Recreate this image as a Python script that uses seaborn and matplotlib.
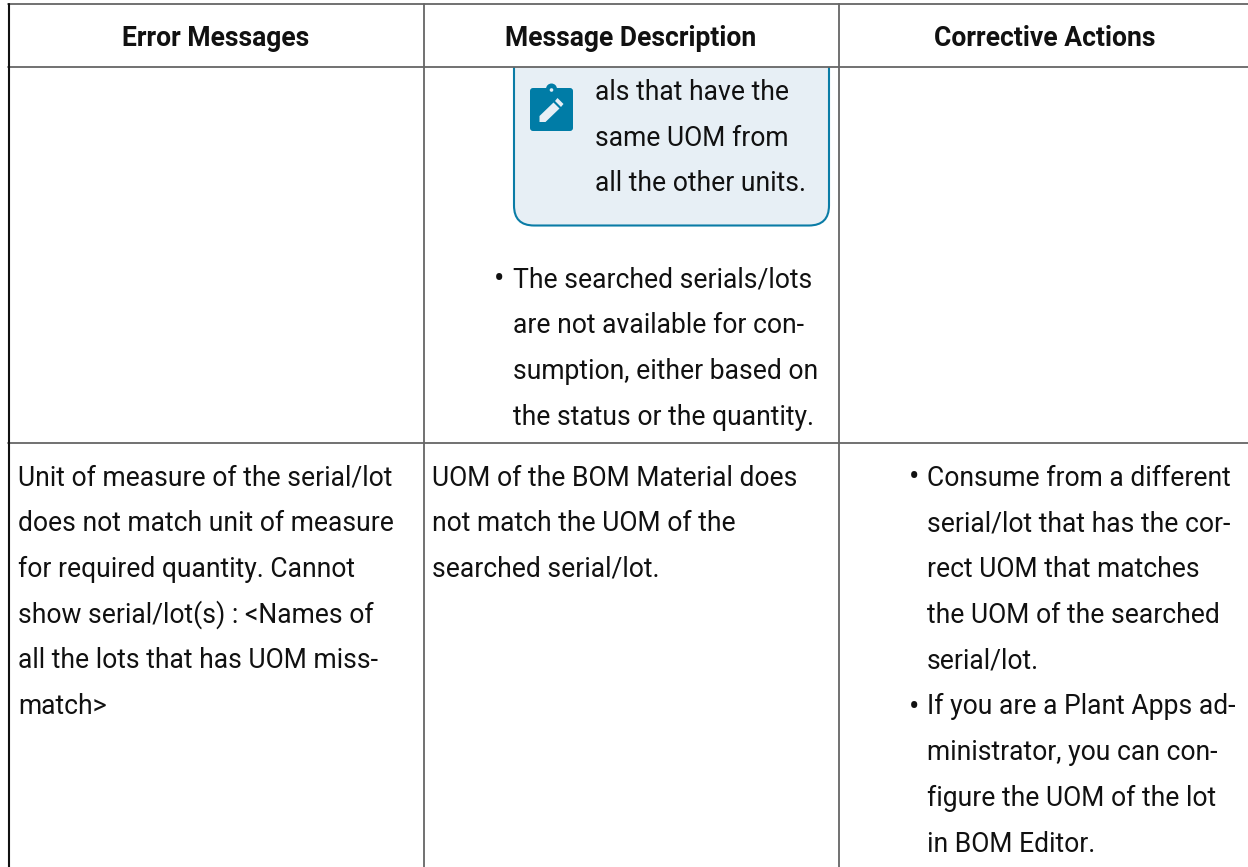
import matplotlib
matplotlib.use('Agg')
import matplotlib.pyplot as plt
from matplotlib.patches import FancyBboxPatch, Polygon, Circle, Rectangle
import seaborn as sns

headers = ['Error Messages', 'Message Description', 'Corrective Actions']

note_lines = ['als that have the', 'same UOM from', 'all the other units.']
bullet1_lines = ['The searched serials/lots', 'are not available for con-',
                 'sumption, either based on', 'the status or the quantity.']
error_lines = ['Unit of measure of the serial/lot', 'does not match unit of measure',
               'for required quantity. Cannot', 'show serial/lot(s) : <Names of',
               'all the lots that has UOM miss-', 'match>']
desc_lines = ['UOM of the BOM Material does', 'not match the UOM of the',
              'searched serial/lot.']
action1_lines = ['Consume from a different', 'serial/lot that has the cor-',
                 'rect UOM that matches', 'the UOM of the searched', 'serial/lot.']
action2_lines = ['If you are a Plant Apps ad-', 'ministrator, you can con-',
                 'figure the UOM of the lot', 'in BOM Editor.']

sns.set_theme(style='white')
plt.rcParams['font.family'] = ['Roboto', 'DejaVu Sans']

LINE = 45.7
FS = 19.1
INK = '#111111'
GRID = '#666666'

fig = plt.figure(figsize=(12.48, 8.67), dpi=100)
ax = fig.add_axes([0, 0, 1, 1])
ax.set_xlim(0, 1248)
ax.set_ylim(867, 0)
ax.axis('off')


def block(x, y, lines):
    for i, s in enumerate(lines):
        ax.text(x, y + i * LINE, s, fontsize=FS, color=INK, va='baseline', ha='left')


def bullet(x, y):
    ax.text(x, y, '•', fontsize=FS + 3, color=INK, va='baseline', ha='left')


# note box, runs off under the header
ax.add_patch(FancyBboxPatch((514, 40), 315, 185.5, boxstyle='round,pad=0,rounding_size=20',
                            fc='#e7eff5', ec='#0a7ca6', lw=1.5, zorder=1))
ax.add_patch(Rectangle((0, 5), 1248, 62, fc='white', ec='none', zorder=2))

# clipboard icon
ax.add_patch(FancyBboxPatch((530, 88), 43, 43, boxstyle='round,pad=0,rounding_size=3',
                            fc='#007ca6', ec='none', zorder=3))
ax.add_patch(Circle((551.5, 89), 5.5, fc='#007ca6', ec='none', zorder=3))
ax.add_patch(Circle((551.5, 90), 1.8, fc='#e7eff5', ec='none', zorder=4))
ax.add_patch(Polygon([[539.5, 116], [539.5, 122], [545.5, 122], [559.5, 108.5], [553.5, 102.5]],
                     fc='#e7eff5', ec='none', zorder=4))
ax.add_patch(Polygon([[555, 101], [561, 107], [563.5, 104], [557.5, 98]],
                     fc='#e7eff5', ec='none', zorder=4))

# grid lines
for y in [4, 67, 443]:
    ax.plot([8, 1248], [y, y], color=GRID, lw=1.3, zorder=5)
for x in [423.5, 838.5]:
    ax.plot([x, x], [4, 867], color=GRID, lw=1.3, zorder=5)
ax.plot([8.5, 8.5], [4, 867], color='#111111', lw=1.5, zorder=6)

for x, h in zip([216, 631, 1045], headers):
    ax.text(x, 45.5, h, fontsize=FS, fontweight='bold', color=INK, ha='center', va='baseline', zorder=6)

block(595, 100, note_lines)
block(513, 287.5, bullet1_lines)
bullet(494, 288.5)
block(18, 485.5, error_lines)
block(432, 485.5, desc_lines)
block(927, 485.5, action1_lines)
block(927, 714.5, action2_lines)
bullet(909, 486.5)
bullet(909, 715.5)

fig.savefig('out.png', dpi=100)
